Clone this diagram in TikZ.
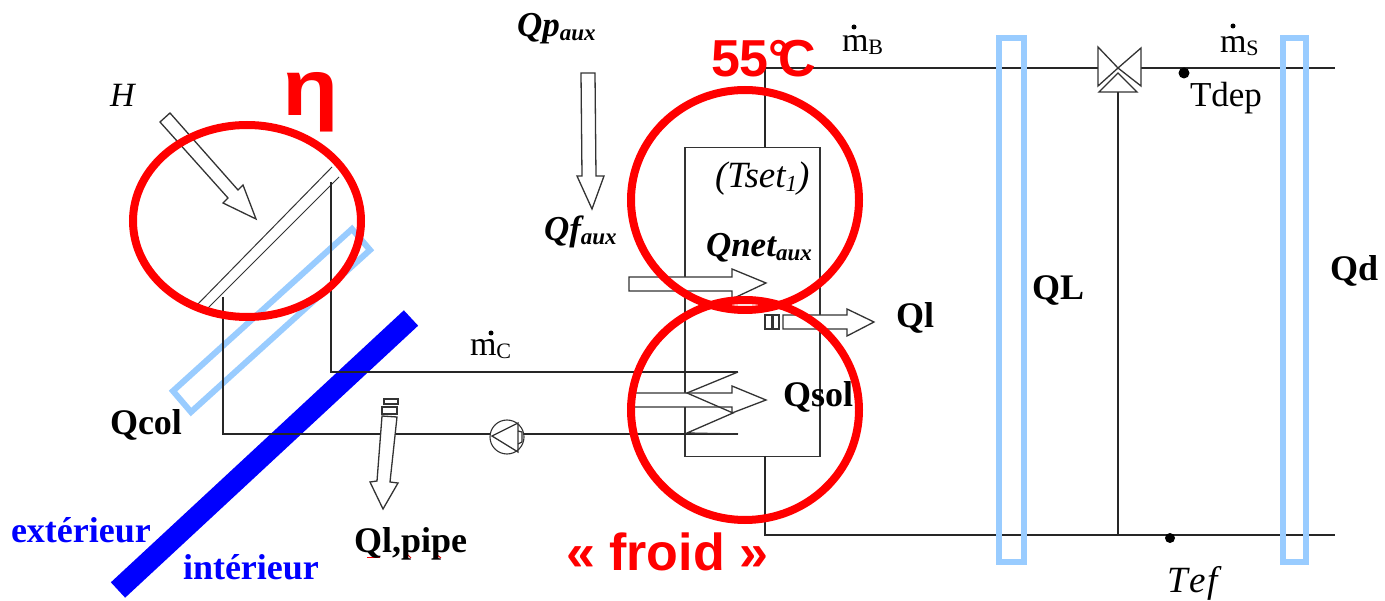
\documentclass[tikz,border=0pt]{standalone}
\usepackage{fontspec}
\usepackage{graphicx}
\setmainfont{Liberation Serif}
\setsansfont{Liberation Sans}
\usetikzlibrary{shapes.geometric}
\definecolor{skyb}{HTML}{99CCFF}
\definecolor{pureblue}{HTML}{0000FF}
\definecolor{purered}{HTML}{FF0000}
\newcommand{\fs}[1]{\fontsize{#1}{#1}\selectfont}
\newcommand{\subt}[1]{{\fs{23}\raisebox{-4pt}{#1}}}
\newcommand{\msub}[1]{m{\fs{22}\raisebox{-3pt}{#1}}}
\tikzset{
 x=1pt,y=-1pt,
 wire/.style={line width=1.5pt,black!85},
 thin wire/.style={line width=1pt,black!80},
 hollow/.style={line width=1.3pt,black!80,fill=white,line join=miter},
 band/.style={line width=6pt,skyb,line join=miter},
 ring/.style={line width=8pt,purered},
 lbl/.style={anchor=base west,inner sep=0pt,outer sep=0pt},
 bolds/.style={lbl,font=\fs{36}\bfseries},
 regs/.style={lbl,font=\fs{35}},
 its/.style={lbl,font=\fs{37}\itshape},
 bolditalic/.style={lbl,font=\fs{35}\bfseries\itshape},
 bluetxt/.style={lbl,font=\fs{36}\bfseries,text=pureblue},
 redtxt/.style={lbl,font=\sffamily\bfseries,text=purered},
}
\begin{document}
\begin{tikzpicture}
\useasboundingbox (0,0) rectangle (1385,601);
\fill[white] (0,0) rectangle (1385,601);

% named points
\coordinate (hotL) at (331,372);
\coordinate (hotU) at (331,182);
\coordinate (coldU) at (223,297);
\coordinate (coldL) at (223,434);
\coordinate (hotEnd) at (738,372);
\coordinate (coldEnd) at (738,434);
\coordinate (tankTop) at (765,147);
\coordinate (tankBot) at (765,456);
\coordinate (topCorner) at (765,68);
\coordinate (botCorner) at (765,535);
\coordinate (topEnd) at (1335,68);
\coordinate (botEnd) at (1335,535);
\coordinate (valveL) at (1098,68);
\coordinate (valveR) at (1141,68);
\coordinate (bypassTop) at (1118,92);
\coordinate (bypassBot) at (1118,535);

% wall
\draw[line width=21pt,pureblue] (411,318) -- (118,590);

% tilted collector band
\draw[band] (352,229) -- (370,250) -- (191,412) -- (173,391) -- cycle;

% collector
\draw[thin wire] (197,305) -- (332,167);
\draw[thin wire] (208,308) -- (339,177);

% storage tank
\node[draw=black!80,line width=1.5pt,minimum width=135pt,minimum height=309pt,inner sep=0pt,anchor=north west] (tank) at (684,147) {};

% pipes
\draw[wire] (hotU) -- (hotL) -- (hotEnd);
\draw[wire] (coldU) -- (coldL) -- (coldEnd);
\draw[wire] (tankTop) -- (topCorner) -- (valveL);
\draw[wire] (valveR) -- (topEnd);
\draw[wire] (tankBot) -- (botCorner) -- (botEnd);
\draw[wire] (bypassTop) -- (bypassBot);

% pump
\node[circle,draw=black!80,fill=white,line width=1.1pt,minimum size=34pt,inner sep=0pt] (pump) at (507,437) {};
\draw[hollow,fill=none] (492,436) -- (518,423) -- (518,452) -- cycle;
\draw[hollow,fill=none] (518,431) -- (522,432) -- (522,442) -- (518,444);

% valve
\draw[hollow] (1098,47) -- (1118,68) -- (1098,86) -- cycle;
\draw[hollow] (1141,48) -- (1118,68) -- (1141,86) -- cycle;
\draw[hollow] (1118,73) -- (1099,92) -- (1137,92) -- cycle;

% big arrows
\draw[hollow] (160,122) -- (170,113) -- (238,190) -- (243,185) -- (256,219) -- (223,203) -- (228,198) -- cycle;
\draw[hollow] (581,73) -- (595,73) -- (596,176) -- (604,176) -- (592,209) -- (577,176) -- (582,176) -- cycle;
\draw[hollow] (629,277) -- (732,277) -- (732,269) -- (766,283) -- (732,299) -- (732,291) -- (629,291) -- cycle;
\draw[hollow] (634,393) -- (732,393) -- (732,386) -- (766,400) -- (732,413) -- (732,407) -- (634,407) -- cycle;
\draw[hollow] (783,315) -- (847,315) -- (847,309) -- (874,322) -- (847,336) -- (847,329) -- (783,329) -- cycle;
\draw[hollow] (765,315) rectangle (772,329);
\draw[hollow] (773,315) rectangle (779,329);
\draw[hollow] (382,416) -- (397,417) -- (390,482) -- (398,483) -- (383,509) -- (370,482) -- (377,481) -- cycle;
\draw[hollow] (382,407) rectangle (397,414);
\draw[hollow] (384,399) rectangle (398,404);

% coil
\draw[thin wire,line width=1.3pt] (hotEnd) -- (687,393) -- (733,413) -- (687,433) -- (coldEnd);

% sensors
\fill[black] (1184,73) circle (5.5);
\fill[black] (1170,538) circle (5);

% light blue bands
\draw[band] (999,38) rectangle (1024,562);
\draw[band] (1283,38) rectangle (1306,562);

% red circles
\draw[ring] (247,221) ellipse [x radius=114pt,y radius=96pt];
\draw[ring] (745,200) ellipse [x radius=114pt,y radius=110pt];
\draw[ring] (745,410) ellipse [x radius=114pt,y radius=110pt];

% spell-check marks
\draw[purered,line width=1pt] (367,557) -- (380,557);
\draw[purered,line width=1pt] (405,558) -- (408,555) -- (411,558);
\draw[purered,line width=1pt] (434,558) -- (437,555) -- (441,558);

% flow-rate dots
\fill[black] (491,333) circle (2.5);
\fill[black] (854,27) circle (2.5);
\fill[black] (1233,26) circle (2.5);

% texts
\node[lbl,font=\fs{34}\itshape] (tH) at (110,107) {H};
\node[bolditalic] (tQp) at (517,37) {Qp\subt{aux}};
\node[bolditalic] (tQf) at (544,241) {Qf\subt{aux}};
\node[lbl,font=\fs{37}\itshape] (tTset) at (715,188) {(Tset\subt{1})};
\node[bolditalic] (tQnet) at (706,257) {Qnet\subt{aux}};
\node[bolds] (tQl) at (896,328) {Ql};
\node[bolds] (tQL) at (1032,300) {QL};
\node[bolds] (tQd) at (1330,281) {Qd};
\node[bolds] (tQsol) at (783,407) {Qsol};
\node[bolds] (tQcol) at (110,435) {Qcol};
\node[bolds] (tQpipe) at (354,552) {Ql,pipe};
\node[regs] (tTdep) at (1190,107) {Tdep};
\node[its] (tTef) at (1167,592) {T\kern1.5pt e\kern1.5pt f};
\node[lbl,font=\fs{34}] (tmC) at (470,356) {\msub{C}};
\node[lbl,font=\fs{34}] (tmB) at (842,52) {\msub{B}};
\node[lbl,font=\fs{34}] (tmS) at (1220,53) {\msub{S}};
\node[bluetxt] (tExt) at (11,542) {extérieur};
\node[bluetxt] (tInt) at (183,579) {intérieur};
\node[redtxt,font=\sffamily\bfseries\fs{52}] (tFroid) at (566,570) {« froid »};
\node[redtxt,font=\sffamily\bfseries\fs{52}] (tTemp) at (711,77) {55°\kern-11pt C};
\node[redtxt,font=\sffamily\bfseries\fs{80}] (tEta) at (282,116) {\scalebox{1.15}[1]{η}};
\end{tikzpicture}
\end{document}
